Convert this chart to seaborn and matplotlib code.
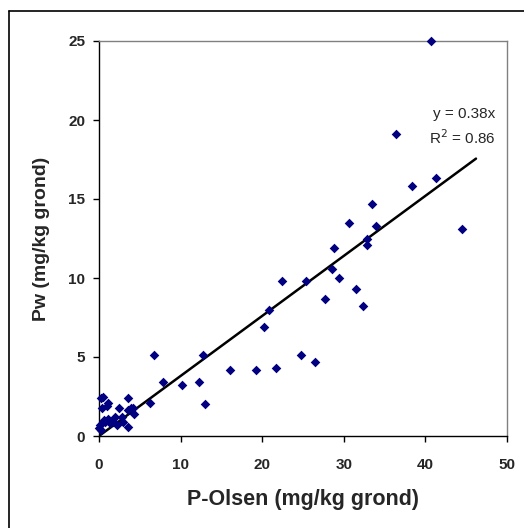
import numpy as np
import matplotlib
matplotlib.use('Agg')
import matplotlib.pyplot as plt
from matplotlib.lines import Line2D
import pandas as pd
import seaborn as sns

# P-Olsen vs Pw
p_olsen = [40.7, 36.4, 41.3, 38.4, 33.5, 30.6, 33.9, 32.9, 32.8, 28.8,
           44.5, 28.6, 29.4, 22.4, 25.4, 27.7, 20.8, 20.2, 12.7, 24.8,
           26.5, 16.0, 19.3, 21.7, 10.2, 12.3, 13.0, 31.5, 32.4, 6.8,
           7.8, 6.3, 0.25, 1.1, 3.6, 0.4, 2.4, 3.6, 4.2, 2.0,
           2.8, 0.1, 0.7, 1.35, 2.2, 3.6, 0.3, 1.1, 1.75, 0.0,
           3.0, 0.5, 1.0, 3.9, 4.3, 0.6]
pw = [25.0, 19.1, 16.3, 15.8, 14.7, 13.5, 13.3, 12.5, 12.1, 11.9,
      13.1, 10.6, 10.0, 9.8, 9.8, 8.7, 8.0, 6.9, 5.1, 5.1,
      4.7, 4.2, 4.2, 4.3, 3.2, 3.4, 2.0, 9.3, 8.2, 5.1,
      3.4, 2.1, 2.4, 2.1, 2.4, 1.8, 1.75, 1.65, 1.8, 1.2,
      1.2, 0.7, 0.9, 0.8, 0.7, 0.6, 0.4, 1.1, 0.9, 0.5,
      0.9, 2.5, 1.9, 1.8, 1.4, 1.0]
slope = 0.38
r2 = 0.86
trend_x = [0.0, 46.2]

df = pd.DataFrame({'x': p_olsen, 'y': pw})
trend = pd.DataFrame({'x': trend_x, 'y': [slope * v for v in trend_x]})

sns.set_theme(style='white')
plt.rcParams['font.family'] = ['Liberation Sans', 'DejaVu Sans']

fig = plt.figure(figsize=(5.24, 5.28), dpi=100)
ax = fig.add_axes([99 / 524, 1 - 436 / 528, (507 - 99) / 524, (436 - 41) / 528])

sns.scatterplot(data=df, x='x', y='y', ax=ax, marker='D', s=24,
                color='#000080', linewidth=0, zorder=3, clip_on=False)
sns.lineplot(data=trend, x='x', y='y', ax=ax, color='black', linewidth=1.8,
             zorder=2)

ax.set_xlim(0, 50)
ax.set_ylim(0, 25)
ax.set_xticks(np.arange(0, 51, 10))
ax.set_yticks(np.arange(0, 26, 5))

for s in ['left', 'bottom']:
    ax.spines[s].set_color('black')
    ax.spines[s].set_linewidth(1.0)
for s in ['top', 'right']:
    ax.spines[s].set_color('#808080')
    ax.spines[s].set_linewidth(1.0)

ax.tick_params(axis='x', direction='out', length=4, width=1, color='black',
               pad=12, labelsize=11)
ax.tick_params(axis='y', direction='out', length=4, width=1, color='black',
               pad=6, labelsize=11)
ax.tick_params(left=True, bottom=True)
for lab in ax.get_xticklabels() + ax.get_yticklabels():
    lab.set_fontweight('bold')

ax.set_xlabel('P-Olsen (mg/kg grond)', fontsize=15.5, fontweight='bold',
              labelpad=12)
ax.set_ylabel('Pw (mg/kg grond)', fontsize=14, fontweight='bold',
              labelpad=13)

ax.text(48.6, 20.4, f'y = {slope}x', ha='right', va='center', fontsize=11)
ax.text(48.6, 18.9, f'R$^2$ = {r2}', ha='right', va='center', fontsize=11)

# outer chart-area border (only top and left visible)
fig.add_artist(Line2D([9 / 524, 1], [1 - 11 / 528] * 2, color='black',
                      linewidth=1.2, transform=fig.transFigure))
fig.add_artist(Line2D([9 / 524] * 2, [0, 1 - 11 / 528], color='black',
                      linewidth=1.2, transform=fig.transFigure))

fig.savefig('out.png', dpi=100)
